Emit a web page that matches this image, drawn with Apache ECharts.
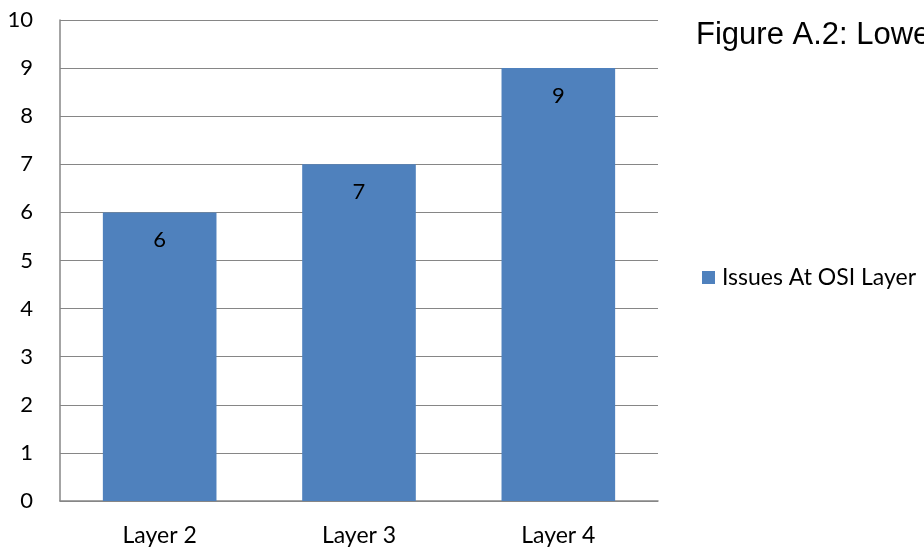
<!DOCTYPE html>
<html>
<head>
<meta charset="utf-8">
<script src="https://cdn.jsdelivr.net/npm/echarts@6/dist/echarts.min.js"></script>
<style>html,body{margin:0;padding:0;background:#fff}#c{width:924px;height:550px}</style>
</head>
<body>
<div id="c"></div>
<script>
const categories = ["Layer 2", "Layer 3", "Layer 4"];
const values = [6, 7, 9];
const seriesName = "Issues At OSI Layer";
const titleText = "Figure A.2: Lower OSI Layers";

const chart = echarts.init(document.getElementById('c'));
chart.setOption({
  animation: false,
  backgroundColor: '#fff',
  title: {
    text: titleText,
    left: 696, top: 20, padding: 0,
    textStyle: { fontFamily: 'Liberation Sans', fontSize: 31, fontWeight: 'normal', color: '#000' }
  },
  legend: {
    data: [seriesName],
    left: 702, top: 266, padding: 0,
    itemWidth: 13, itemHeight: 13, itemGap: 5,
    icon: 'rect',
    textStyle: { fontFamily: 'Lato', fontSize: 23, color: '#000', padding: [0,0,0,2] }
  },
  grid: { left: 60, right: 266, top: 20, bottom: 49 },
  xAxis: {
    type: 'category',
    data: categories,
    axisLine: { lineStyle: { color: '#868686', width: 1.5 } },
    axisTick: { show: false },
    axisLabel: { fontFamily: 'Lato', fontSize: 23, color: '#000', margin: 23 }
  },
  yAxis: {
    type: 'value', min: 0, max: 10, interval: 1,
    axisLine: { show: true, lineStyle: { color: '#868686', width: 1.5 } },
    axisTick: { show: false },
    splitLine: { lineStyle: { color: '#868686', width: 1 } },
    axisLabel: { fontFamily: 'Lato', fontSize: 22, color: '#000', margin: 27 }
  },
  series: [{
    name: seriesName,
    type: 'bar',
    data: values,
    barWidth: '57%',
    itemStyle: { color: '#4F81BD' },
    label: { show: true, position: 'insideTop', distance: 17, fontFamily: 'Lato', fontSize: 22, color: '#000' }
  }]
});
</script>
</body>
</html>
